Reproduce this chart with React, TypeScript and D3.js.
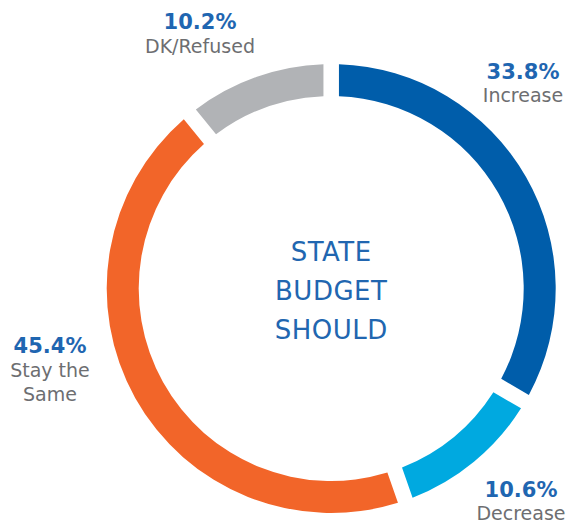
import React from "react";
import * as d3 from "d3";

const categories = ["Increase", "Decrease", "Stay the Same", "DK/Refused"];
const values = [33.8, 10.6, 45.4, 10.2];
const valueLabels = ["33.8%", "10.6%", "45.4%", "10.2%"];
const labelLines = [["Increase"], ["Decrease"], ["Stay the", "Same"], ["DK/Refused"]];
const colors = ["#005DAA", "#00A9E0", "#F26529", "#B1B3B6"];
const centerLines = ["STATE", "BUDGET", "SHOULD"];

// label anchor positions (layout): value baseline, first text line baseline
const labelPos = [
  { x: 523, y: 79, ly: 102 },
  { x: 521, y: 497, ly: 520 },
  { x: 50, y: 353, ly: 377 },
  { x: 200, y: 29, ly: 53 },
];

const W = 568;
const H = 525;
const cx = 331.2;
const cy = 288.5;
const outerR = 224.5;
const innerR = 192.5;

export default function App() {
  const data = categories.map((c, i) => ({ c, v: values[i], i }));
  const pie = d3
    .pie<any>()
    .value((d) => d.v)
    .sort(null)
    .padAngle(15.5 / outerR);
  const arc = d3
    .arc<any>()
    .innerRadius(innerR)
    .outerRadius(outerR)
    .padRadius(outerR);
  const arcs = pie(data);
  const font = "'DejaVu Sans', sans-serif";
  return (
    <svg
      width={W}
      height={H}
      style={{ position: "absolute", left: 0, top: 0, display: "block" }}
    >
      <rect width={W} height={H} fill="#ffffff" />
      <g transform={`translate(${cx},${cy})`}>
        {arcs.map((a, i) => (
          <path key={i} d={arc(a) as string} fill={colors[i]} />
        ))}
      </g>
      {centerLines.map((t, i) => (
        <text
          key={t}
          x={cx}
          y={261 + i * 39}
          textAnchor="middle"
          fontFamily={font}
          fontSize={26}
          letterSpacing={0.5}
          fill="#2166B0"
        >
          {t}
        </text>
      ))}
      {data.map((d, i) => (
        <g key={d.c}>
          <text
            x={labelPos[i].x}
            y={labelPos[i].y}
            textAnchor="middle"
            fontFamily={font}
            fontWeight={700}
            fontSize={21}
            fill="#1F66B1"
          >
            {valueLabels[i]}
          </text>
          {labelLines[i].map((l, j) => (
            <text
              key={l}
              x={labelPos[i].x}
              y={labelPos[i].ly + j * 24}
              textAnchor="middle"
              fontFamily={font}
              fontSize={19}
              fill="#6D6E71"
            >
              {l}
            </text>
          ))}
        </g>
      ))}
    </svg>
  );
}
